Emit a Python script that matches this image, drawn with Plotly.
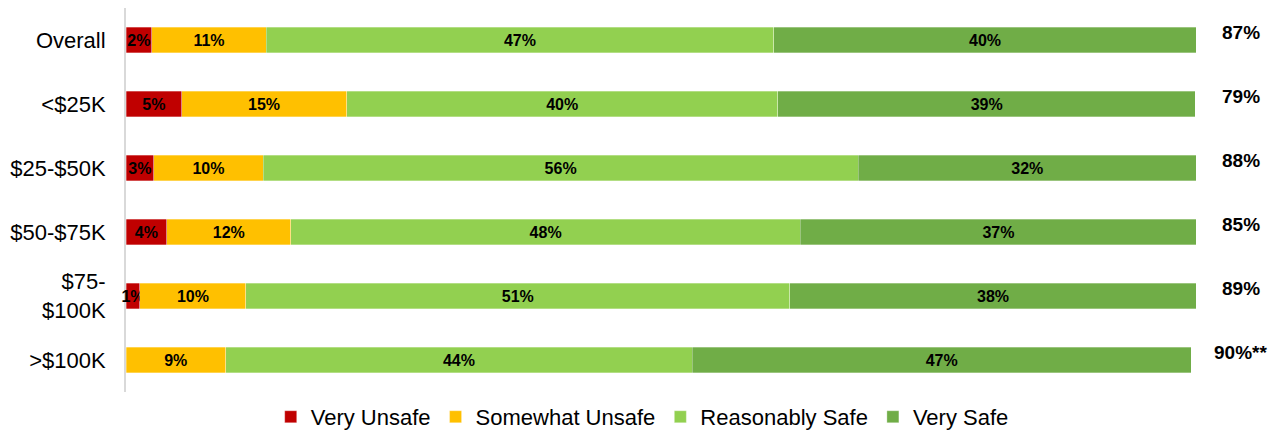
import plotly.graph_objects as go

categories = ["Overall", "<$25K", "$25-$50K", "$50-$75K", "$75-<br>$100K", ">$100K"]
very_unsafe = [2.4, 5.2, 2.6, 3.8, 1.3, 0.0]
somewhat_unsafe = [10.7, 15.4, 10.2, 11.6, 9.9, 9.3]
reasonably_safe = [47.4, 40.3, 55.6, 47.6, 50.8, 43.6]
very_safe = [39.5, 39.0, 31.6, 37.0, 38.0, 46.6]
totals = ["87%", "79%", "88%", "85%", "89%", "90%**"]

series = [
    ("Very Unsafe", very_unsafe, "#C00000"),
    ("Somewhat Unsafe", somewhat_unsafe, "#FFC000"),
    ("Reasonably Safe", reasonably_safe, "#92D050"),
    ("Very Safe", very_safe, "#70AD47"),
]

BASE_FONT = "Liberation Sans, Arial, sans-serif"

fig = go.Figure()
for name, vals, color in series:
    fig.add_trace(go.Bar(
        y=categories, x=vals, name=name, orientation="h",
        marker=dict(color=color, line=dict(color="rgba(255,255,255,0.6)", width=0.5)),
        text=[f"{round(v)}%" if v > 0 else "" for v in vals],
        textposition="inside", insidetextanchor="middle", textangle=0,
        textfont=dict(family=BASE_FONT, size=16, color="black", weight="bold"),
        cliponaxis=False,
        hoverinfo="skip",
    ))

for cat, t in zip(categories, totals):
    fig.add_annotation(
        x=1.041, xref="paper", y=cat, yref="y", text=f"<b>{t}</b>",
        showarrow=False, xanchor="center", yanchor="middle", yshift=8,
        font=dict(family=BASE_FONT, size=19, color="black"),
    )

fig.update_layout(
    barmode="stack",
    bargap=0.6,
    width=1282, height=430,
    margin=dict(l=126, r=85, t=8, b=38, autoexpand=False),
    paper_bgcolor="white", plot_bgcolor="white",
    font=dict(family=BASE_FONT, color="black"),
    showlegend=True,
    legend=dict(
        orientation="h", x=0.482, xanchor="center", y=-0.065, yanchor="middle",
        font=dict(family=BASE_FONT, size=22, color="black"),
        traceorder="normal", itemclick=False,
    ),
    uniformtext=dict(minsize=16, mode="show"),
    xaxis=dict(range=[0, 100.05], visible=False, showgrid=False, zeroline=False,
               fixedrange=True, automargin=False),
    yaxis=dict(
        range=[5.5, -0.5], showline=True, linecolor="#D9D9D9", linewidth=2,
        ticks="", showgrid=False, zeroline=False, ticklabelstandoff=14,
        tickfont=dict(family=BASE_FONT, size=22, color="black"),
        fixedrange=True, automargin=False, layer="below traces",
    ),
)

fig.write_html(
    "out.html",
    config={"displayModeBar": False},
    post_script="document.body.style.margin='0';document.body.style.overflow='hidden';",
)
